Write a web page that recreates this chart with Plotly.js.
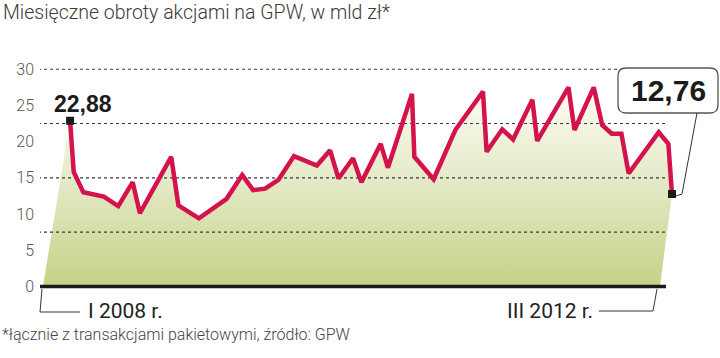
<!DOCTYPE html>
<html>
<head>
<meta charset="utf-8">
<script src="https://cdn.plot.ly/plotly-3.0.1.min.js"></script>
<style>html,body{margin:0;padding:0;background:#fff;}#chart{width:720px;height:358px;}</style>
</head>
<body>
<div id="chart"></div>
<script>
// Months since January 2008 (vertex positions of the drawn line) and turnover, bn PLN
const monthPos = [0, 0.3, 1.1, 2.8, 4.0, 5.2, 5.8, 8.4, 9.0, 10.7, 13.0, 14.3, 15.2, 16.2, 17.3, 18.6, 20.5, 21.6, 22.3, 23.5, 24.2, 25.8, 26.4, 28.4, 28.6, 30.2, 32.0, 34.3, 34.6, 35.9, 36.8, 38.4, 38.8, 41.4, 41.9, 43.5, 44.2, 45.0, 45.8, 46.4, 48.9, 49.7, 50.0];
const turnover = [22.88, 15.8, 13.0, 12.4, 11.1, 14.4, 10.1, 17.9, 11.2, 9.4, 12.1, 15.4, 13.3, 13.5, 14.7, 18.0, 16.7, 18.8, 14.9, 17.7, 14.4, 19.7, 16.4, 26.6, 17.9, 14.8, 21.6, 26.9, 18.6, 21.7, 20.3, 25.8, 20.1, 27.5, 21.6, 27.5, 22.3, 21.1, 21.1, 15.6, 21.3, 19.7, 12.76];
const yTicks = [0, 5, 10, 15, 20, 25, 30];
const gridValues = [7.5, 15, 22.5, 30];
const startLabel = "I 2008 r.";
const endLabel = "III 2012 r.";
const titleText = "Miesięczne obroty akcjami na GPW, w mld zł*";
const noteText = "*łącznie z transakcjami pakietowymi, źródło: GPW";

// decorative feet of the shaded area (style)
const fillFootLeft = -2.25, fillFootRight = 49.0;

const L = 40, T = 62, W = 638, H = 228;
const XR = [-2.5, 50.5], YR = [-0.5, 31];
const px = x => (x - L) / W;
const py = y => (T + H - y) / H;
const mx = p => XR[0] + (p - L) / W * (XR[1] - XR[0]); // pixel -> x units (for styling shapes)

const first = 0, last = turnover.length - 1;
const fmt = v => v.toFixed(2).replace('.', ',');

const FONT = 'Roboto, "Liberation Sans", sans-serif';
const BOLD = '"Liberation Sans", Arial, sans-serif';

const traces = [
  {
    x: [fillFootLeft].concat(monthPos, [fillFootRight]),
    y: [0].concat(turnover, [0]),
    xaxis: 'x', yaxis: 'y',
    mode: 'lines', fill: 'toself', line: {width: 0, color: 'rgba(0,0,0,0)'},
    fillcolor: '#dfe6bb',
    fillgradient: {type: 'vertical', start: 0, stop: 28, colorscale: [[0, '#c4d288'], [0.55, '#e6ebca'], [1, '#fdfdf6']]},
    hoverinfo: 'skip', showlegend: false
  },
  {
    x: monthPos, y: turnover, mode: 'lines', xaxis: 'x2', yaxis: 'y2',
    line: {color: '#d4124b', width: 4.5},
    showlegend: false
  },
  {
    x: [monthPos[first], monthPos[last]], y: [turnover[first], turnover[last]], xaxis: 'x2', yaxis: 'y2',
    mode: 'markers', marker: {symbol: 'square', size: 8, color: '#1b1b1b'},
    showlegend: false, cliponaxis: false
  }
];

const shapes = [];
gridValues.forEach(v => {
  shapes.push({type: 'line', xref: 'x2', yref: 'y2', x0: mx(38), x1: mx(665), y0: v, y1: v,
    line: {color: '#3a3a3a', width: 1.2, dash: '3px,3px'}, layer: 'below'});
});
// baseline
shapes.push({type: 'line', xref: 'x2', yref: 'y2', x0: mx(40), x1: mx(666), y0: 0, y1: 0,
  line: {color: '#1a1a1a', width: 3.5}, layer: 'below'});
// leader lines for period labels
shapes.push({type: 'path', xref: 'paper', yref: 'paper',
  path: `M${px(42)},${py(289)} L${px(40)},${py(312)} L${px(80)},${py(312)}`,
  line: {color: '#333', width: 1}});
shapes.push({type: 'path', xref: 'paper', yref: 'paper',
  path: `M${px(599)},${py(311)} L${px(653)},${py(311)} L${px(657)},${py(289)}`,
  line: {color: '#333', width: 1}});
// rounded callout box
(function(){
  const x0 = 618, x1 = 718, y0 = 68, y1 = 113, r = 8;
  const p = `M${px(x0 + r)},${py(y0)} L${px(x1 - r)},${py(y0)} Q${px(x1)},${py(y0)} ${px(x1)},${py(y0 + r)} ` +
    `L${px(x1)},${py(y1 - r)} Q${px(x1)},${py(y1)} ${px(x1 - r)},${py(y1)} L${px(x0 + r)},${py(y1)} ` +
    `Q${px(x0)},${py(y1)} ${px(x0)},${py(y1 - r)} L${px(x0)},${py(y0 + r)} Q${px(x0)},${py(y0)} ${px(x0 + r)},${py(y0)} Z`;
  shapes.push({type: 'path', xref: 'paper', yref: 'paper', path: p, fillcolor: '#ffffff',
    line: {color: '#555', width: 1.3}, layer: 'above'});
})();
// callout leader
shapes.push({type: 'path', xref: 'paper', yref: 'paper',
  path: `M${px(697)},${py(113)} L${px(682)},${py(194)} L${px(676)},${py(196)}`,
  line: {color: '#333', width: 1}});

const annotations = [
  {xref: 'paper', yref: 'paper', x: px(1), y: py(12), xanchor: 'left', yanchor: 'middle', showarrow: false,
    text: titleText, font: {family: FONT, size: 19.5, color: '#3a3a3a', weight: 300}},
  {xref: 'paper', yref: 'paper', x: px(0), y: py(334), xanchor: 'left', yanchor: 'middle', showarrow: false,
    text: noteText, font: {family: FONT, size: 16, color: '#444', weight: 300}},
  {xref: 'paper', yref: 'paper', x: px(86), y: py(311), xanchor: 'left', yanchor: 'middle', showarrow: false,
    text: startLabel, font: {family: FONT, size: 21, color: '#222'}},
  {xref: 'paper', yref: 'paper', x: px(595), y: py(311), xanchor: 'right', yanchor: 'middle', showarrow: false,
    text: endLabel, font: {family: FONT, size: 21, color: '#222'}},
  {xref: 'x2', yref: 'y2', x: monthPos[first], y: turnover[first], xshift: 13, yshift: 17, showarrow: false,
    xanchor: 'center', yanchor: 'middle', text: '<b>' + fmt(turnover[first]) + '</b>',
    font: {family: BOLD, size: 23, color: '#1b1b1b'}},
  {xref: 'paper', yref: 'paper', x: px(668), y: py(91), showarrow: false,
    xanchor: 'center', yanchor: 'middle', text: '<b>' + fmt(turnover[last]) + '</b>',
    font: {family: BOLD, size: 30, color: '#1b1b1b'}}
];

const layout = {
  width: 720, height: 358,
  margin: {l: L, r: 720 - L - W, t: T, b: 358 - T - H, pad: 0},
  paper_bgcolor: '#ffffff', plot_bgcolor: 'rgba(0,0,0,0)',
  xaxis: {range: XR, visible: false, fixedrange: true, domain: [0, 1], anchor: 'y'},
  yaxis: {range: YR, tickvals: yTicks, ticktext: yTicks.map(String), showgrid: false, zeroline: false,
    showline: false, ticks: '', ticklabelstandoff: 5, domain: [0, 1], anchor: 'x',
    tickfont: {family: FONT, size: 16, color: '#555', weight: 300}, fixedrange: true},
  xaxis2: {range: XR, visible: false, fixedrange: true, domain: [0, 1], anchor: 'y2'},
  yaxis2: {range: YR, visible: false, showgrid: false, zeroline: false, fixedrange: true, domain: [0, 1], anchor: 'x2'},
  shapes: shapes, annotations: annotations, showlegend: false
};

Plotly.newPlot('chart', traces, layout, {displayModeBar: false, staticPlot: true});
</script>
</body>
</html>
